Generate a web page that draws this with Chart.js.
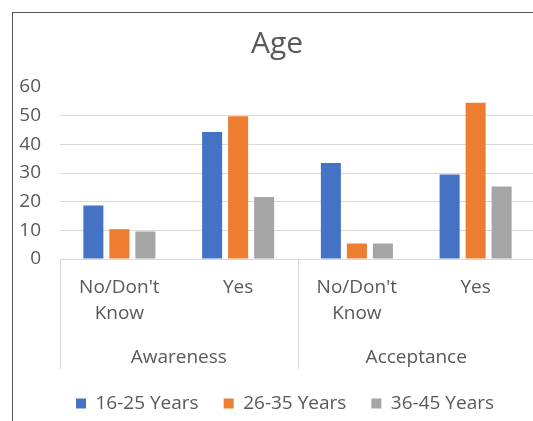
<!DOCTYPE html>
<html>
<head>
<meta charset="utf-8">
<script src="https://cdn.jsdelivr.net/npm/chart.js@4"></script>
<style>
    html, body { margin: 0; padding: 0; background: #fff; overflow: hidden; }
    #frame {
        position: absolute; left: 12px; top: 12px;
        width: 530px; height: 414px;
        border-left: 1px solid #555; border-top: 1px solid #555;
    }
</style>
</head>
<body>
<div id="frame"><canvas id="age-chart"></canvas></div>
<script>
// Data
const subLabels = [["No/Don't", "Know"], "Yes", ["No/Don't", "Know"], "Yes"];
const groupLabels = ["Awareness", "Acceptance"];
const seriesNames = ["16-25 Years", "26-35 Years", "36-45 Years"];
const age16to25 = [18.7, 44.3, 33.5, 29.5];
const age26to35 = [10.4, 49.8, 5.4, 54.5];
const age36to45 = [9.6, 21.6, 5.4, 25.3];
const yTicks = [0, 10, 20, 30, 40, 50, 60];

const textColor = '#595959';
const lineColor = '#d9d9d9';
const fontFamily = "'Open Sans', sans-serif";

// draws the vertical separators of the two-level category axis
const separators = {
    id: 'separators',
    afterLayout(chart) {
        // legend sits a bit right of centre in the original
        chart.legend.left += 8;
        chart.legend.right += 8;
    },
    afterDraw(chart) {
        const x = chart.scales.x;
        const x2 = chart.scales.x2;
        const ctx = chart.ctx;
        const mid = (x.getPixelForValue(1) + x.getPixelForValue(2)) / 2;
        ctx.save();
        ctx.strokeStyle = lineColor;
        ctx.lineWidth = 1;
        [x.left, mid, x.right].forEach(px => {
            ctx.beginPath();
            ctx.moveTo(Math.round(px) + 0.5, chart.chartArea.bottom);
            ctx.lineTo(Math.round(px) + 0.5, x2.bottom);
            ctx.stroke();
        });
        ctx.restore();
    }
};

const ageContext = document.querySelector('#age-chart').getContext('2d');

const ageChart = new Chart(ageContext, {
    type: 'bar',
    data: {
        labels: subLabels,
        datasets: [{
            label: seriesNames[0],
            data: age16to25,
            backgroundColor: '#4472C4'
        }, {
            label: seriesNames[1],
            data: age26to35,
            backgroundColor: '#ED7D31'
        }, {
            label: seriesNames[2],
            data: age36to45,
            backgroundColor: '#A5A5A5'
        }]
    },
    options: {
        responsive: true,
        maintainAspectRatio: false,
        animation: false,
        categoryPercentage: 0.657,
        barPercentage: 0.77,
        layout: {
            padding: { left: 6, right: 8, top: 0, bottom: 4 }
        },
        plugins: {
            title: {
                display: true,
                text: 'Age',
                color: textColor,
                font: { family: fontFamily, size: 30, weight: 'normal' },
                padding: { top: 13, bottom: 25 }
            },
            legend: {
                position: 'bottom',
                labels: {
                    color: textColor,
                    font: { family: fontFamily, size: 19 },
                    boxWidth: 10,
                    boxHeight: 10,
                    padding: 25
                }
            },
            tooltip: { enabled: false }
        },
        scales: {
            x: {
                afterFit: s => { s.height = 68; s.paddingLeft = 0; s.paddingRight = 0; },
                grid: { drawOnChartArea: false, drawTicks: false },
                border: { display: true, color: lineColor },
                ticks: {
                    color: textColor,
                    font: { family: fontFamily, size: 19, lineHeight: 1.37 },
                    padding: 16,
                    maxRotation: 0
                }
            },
            x2: {
                type: 'category',
                labels: groupLabels,
                position: 'bottom',
                offset: true,
                afterFit: s => { s.height = 42; s.paddingLeft = 0; s.paddingRight = 0; },
                grid: { display: false, drawTicks: false },
                border: { display: false },
                ticks: {
                    color: textColor,
                    font: { family: fontFamily, size: 19, lineHeight: 1.37 },
                    padding: 18,
                    maxRotation: 0
                }
            },
            y: {
                min: yTicks[0],
                max: yTicks[yTicks.length - 1],
                afterBuildTicks: axis => {
                    axis.ticks = yTicks.map(v => ({ value: v }));
                },
                afterFit: s => { s.width = 41; },
                grid: {
                    drawTicks: false,
                    color: c => (c.tick && c.tick.value === 60) ? 'rgba(0,0,0,0)' : lineColor
                },
                border: { display: false },
                ticks: {
                    color: textColor,
                    font: { family: fontFamily, size: 19 },
                    padding: 19
                }
            }
        }
    },
    plugins: [separators]
});
</script>
</body>
</html>
